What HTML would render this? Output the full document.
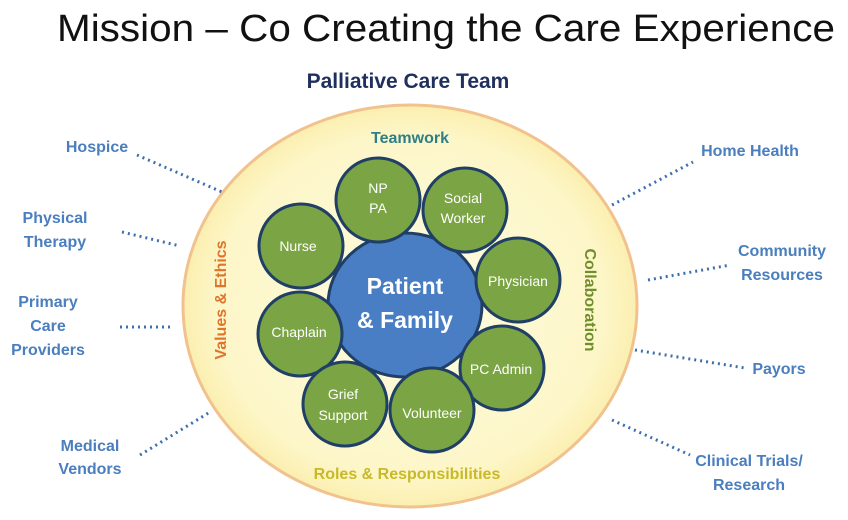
<!DOCTYPE html>
<html><head><meta charset="utf-8"><style>
body{margin:0;background:#fff;}
svg{display:block;font-family:"Liberation Sans",sans-serif;}
</style></head><body>
<svg width="848" height="520" viewBox="0 0 848 520">
<defs>
<radialGradient id="yg" cx="50%" cy="50%" r="50%">
<stop offset="0" stop-color="#fefbe0"/><stop offset="0.85" stop-color="#fdf6c8"/><stop offset="1" stop-color="#fbefb0"/>
</radialGradient>
</defs>
<text x="57" y="41" font-size="38" textLength="778" lengthAdjust="spacingAndGlyphs" fill="#111">Mission – Co Creating the Care Experience</text>
<text x="408" y="88" font-size="21" font-weight="bold" text-anchor="middle" fill="#1f2f5e">Palliative Care Team</text>
<ellipse cx="410" cy="306" rx="227" ry="201" fill="url(#yg)" stroke="#f2c28e" stroke-width="3"/>
<g stroke="#3d6fb0" stroke-width="3" stroke-dasharray="2,4" fill="none">
<line x1="137" y1="155" x2="222" y2="192"/>
<line x1="122" y1="232" x2="180" y2="246"/>
<line x1="120" y1="327" x2="173" y2="327"/>
<line x1="140" y1="455" x2="210" y2="412"/>
<line x1="612" y1="205" x2="693" y2="162"/>
<line x1="648" y1="280" x2="730" y2="265"/>
<line x1="635" y1="350" x2="745" y2="368"/>
<line x1="612" y1="420" x2="690" y2="455"/>
</g>
<g font-size="16" font-weight="bold" fill="#4a7ebf" text-anchor="middle">
<text x="97" y="152">Hospice</text>
<text x="55" y="223">Physical</text><text x="55" y="247">Therapy</text>
<text x="48" y="307">Primary</text><text x="48" y="331">Care</text><text x="48" y="355">Providers</text>
<text x="90" y="451">Medical</text><text x="90" y="474">Vendors</text>
<text x="750" y="156">Home Health</text>
<text x="782" y="256">Community</text><text x="782" y="280">Resources</text>
<text x="779" y="374">Payors</text>
<text x="749" y="466">Clinical Trials/</text><text x="749" y="490">Research</text>
</g>
<text x="410" y="143" font-size="16" font-weight="bold" fill="#2f7f86" text-anchor="middle">Teamwork</text>
<text x="407" y="479" font-size="16" font-weight="bold" fill="#c8b92a" text-anchor="middle">Roles &amp; Responsibilities</text>
<text transform="translate(226,300) rotate(-90)" font-size="16" font-weight="bold" fill="#e0742c" text-anchor="middle">Values &amp; Ethics</text>
<text transform="translate(585,300) rotate(90)" font-size="16" font-weight="bold" fill="#6f8f2c" text-anchor="middle">Collaboration</text>
<ellipse cx="405" cy="305" rx="77" ry="72" fill="#4a7ec4" stroke="#1f3f66" stroke-width="3"/>
<text x="405" y="294" font-size="23" font-weight="bold" fill="#fff" text-anchor="middle">Patient</text>
<text x="405" y="328" font-size="23" font-weight="bold" fill="#fff" text-anchor="middle">&amp; Family</text>
<g fill="#7ba444" stroke="#1f3f66" stroke-width="3">
<circle cx="378" cy="200" r="42"/><circle cx="465" cy="210" r="42"/>
<circle cx="301" cy="246" r="42"/><circle cx="518" cy="280" r="42"/>
<circle cx="300" cy="334" r="42"/><circle cx="502" cy="368" r="42"/>
<circle cx="345" cy="404" r="42"/><circle cx="432" cy="410" r="42"/>
</g>
<g font-size="14" fill="#fff" text-anchor="middle">
<text x="378" y="193">NP</text><text x="378" y="213">PA</text>
<text x="463" y="203">Social</text><text x="463" y="223">Worker</text>
<text x="298" y="251">Nurse</text>
<text x="518" y="286">Physician</text>
<text x="299" y="337">Chaplain</text>
<text x="501" y="374">PC Admin</text>
<text x="343" y="399">Grief</text><text x="343" y="420">Support</text>
<text x="432" y="418">Volunteer</text>
</g>
</svg>
</body></html>
